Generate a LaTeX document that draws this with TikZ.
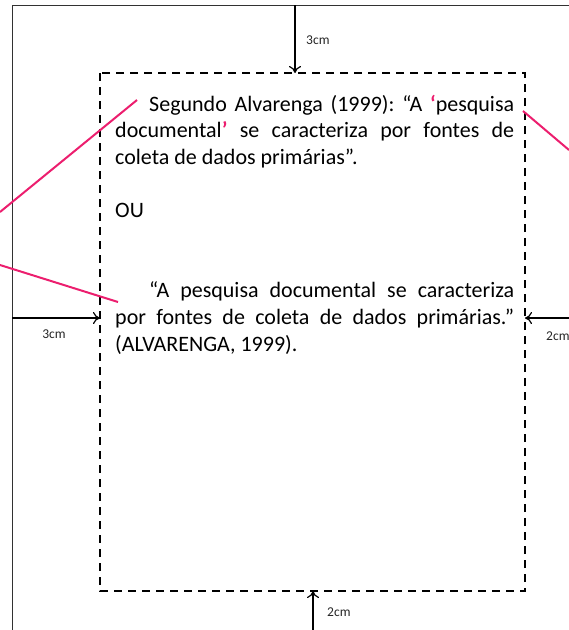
\documentclass[tikz,border=0pt]{standalone}
\usepackage{fontspec}
\setmainfont{Carlito}
\usetikzlibrary{arrows.meta}
\definecolor{pinkline}{RGB}{236,30,110}
\definecolor{pageline}{RGB}{50,50,50}
\tikzset{
  pageedge/.style={draw=pageline, line width=1pt},
  margarrow/.style={draw=black, line width=1.2pt, -{To[length=7pt,width=12pt]}},
  marglabel/.style={font=\fontsize{13.5}{15}\selectfont, text=black!85, inner sep=0pt},
  textline/.style={anchor=base west, inner sep=0pt, font=\fontsize{22}{26}\selectfont},
  pinkstroke/.style={draw=pinkline, line width=2pt},
  dashbox/.style={draw=black, line width=2.6pt, dash pattern=on 8pt off 6pt}
}
\newcommand{\jline}[1]{\hbox to 399pt{#1}}
\newcommand{\pq}[1]{\textcolor{pinkline}{\bfseries #1}}
\begin{document}
\begin{tikzpicture}[x=1pt,y=-1pt]
\useasboundingbox (0,0) rectangle (569,630);
% page outline
\coordinate (ptl) at (12,5);
\coordinate (ptr) at (569,5);
\coordinate (pbl) at (12,630);
\draw[pageedge] (ptr) -- (ptl) -- (pbl);
% dashed margin box
\coordinate (btl) at (100,73);
\coordinate (bbr) at (525,591);
\draw[dashbox] (btl) rectangle (bbr);
% margin arrows
\coordinate (tA) at (295,5); \coordinate (tB) at (295,73);
\draw[margarrow] (tA) -- (tB);
\node[marglabel, anchor=west] (lt) at (306,40) {3cm};
\coordinate (lA) at (12,318); \coordinate (lB) at (100,318);
\draw[margarrow] (lA) -- (lB);
\node[marglabel] (ll) at (54,334) {3cm};
\coordinate (rA) at (569,318); \coordinate (rB) at (525,318);
\draw[margarrow] (rA) -- (rB);
\node[marglabel, anchor=west] (lr) at (546,336) {2cm};
\coordinate (bA) at (313,630); \coordinate (bB) at (313,591);
\draw[margarrow] (bA) -- (bB);
\node[marglabel, anchor=west] (lb) at (327,612) {2cm};
% text
\node[textline] (t1) at (115,111) {\jline{\hspace{34pt}Segundo\hfill Alvarenga\hfill (1999):\hfill “A\hfill \pq{‘}pesquisa}};
\node[textline] (t2) at (115,137.7) {\jline{documental\pq{’}\hfill se\hfill caracteriza\hfill por\hfill fontes\hfill de}};
\node[textline] (t3) at (115,164.4) {coleta de dados primárias”.};
\node[textline] (t5) at (115,217.8) {OU};
\node[textline] (t8) at (115,297.9) {\jline{\hspace{34pt}“A\hfill pesquisa\hfill documental\hfill se\hfill caracteriza}};
\node[textline] (t9) at (115,324.6) {\jline{por\hfill fontes\hfill de\hfill coleta\hfill de\hfill dados\hfill primárias.”}};
\node[textline] (t10) at (115,351.3) {(ALVARENGA, 1999).};
% pink pointer lines
\coordinate (p1a) at (0,212); \coordinate (p1b) at (137,100);
\draw[pinkstroke] (p1a) -- (p1b);
\coordinate (p2a) at (0,265); \coordinate (p2b) at (118,302);
\draw[pinkstroke] (p2a) -- (p2b);
\coordinate (p3a) at (523,111); \coordinate (p3b) at (569,150);
\draw[pinkstroke] (p3a) -- (p3b);
\end{tikzpicture}
\end{document}
